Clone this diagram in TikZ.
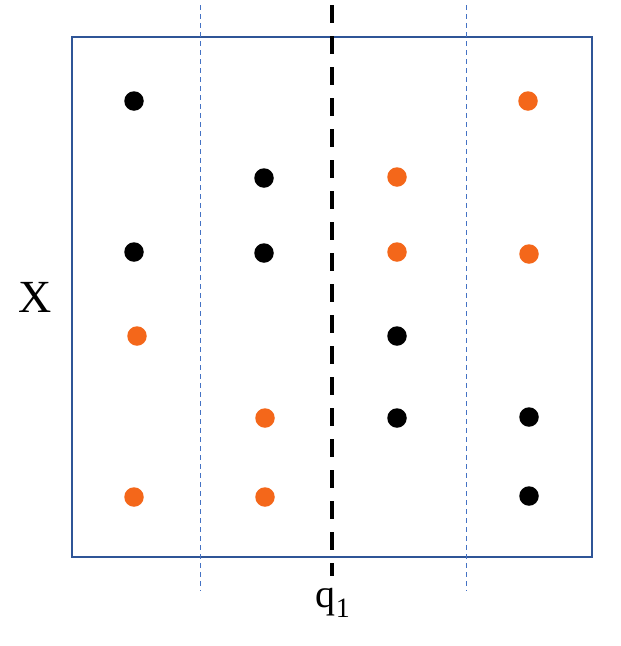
\documentclass[tikz,border=0pt]{standalone}
\usepackage{fontspec}
\setmainfont{Liberation Serif}
\definecolor{boxblue}{HTML}{2F5597}
\definecolor{lineblue}{HTML}{4472C4}
\definecolor{dotorange}{HTML}{F4671A}
\tikzset{
  dot/.style={circle,inner sep=0pt,minimum size=19.5pt,fill=#1},
  thin dash/.style={lineblue,line width=1pt,dash pattern=on 5pt off 4pt},
  split/.style={black,line width=3.5pt,dash pattern=on 18pt off 13pt}
}
\begin{document}
\begin{tikzpicture}[x=1pt,y=-1pt]
\useasboundingbox (0,0) rectangle (621,646);
\draw[boxblue,line width=2pt] (72,37) rectangle (592,557);
\coordinate (l1) at (200,5); \coordinate (l2) at (200,591);
\coordinate (r1) at (466,5); \coordinate (r2) at (466,591);
\coordinate (m1) at (332,5); \coordinate (m2) at (332,576);
\draw[thin dash] (l1) -- (l2);
\draw[thin dash] (r1) -- (r2);
\draw[split] (m1) -- (m2);
\node (X) at (35,297) {\fontsize{46}{46}\selectfont X};
\node (q) at (333,603) {\fontsize{40}{40}\selectfont q\textsubscript{\fontsize{28}{28}\selectfont 1}};
% black dots
\node[dot=black] (b1) at (134,101) {};
\node[dot=black] (b2) at (264,178) {};
\node[dot=black] (b3) at (134,252) {};
\node[dot=black] (b4) at (264,253) {};
\node[dot=black] (b5) at (397,336) {};
\node[dot=black] (b6) at (397,418) {};
\node[dot=black] (b7) at (529,417) {};
\node[dot=black] (b8) at (529,496) {};
% orange dots
\node[dot=dotorange] (o1) at (528,101) {};
\node[dot=dotorange] (o2) at (397,177) {};
\node[dot=dotorange] (o3) at (397,252) {};
\node[dot=dotorange] (o4) at (529,254) {};
\node[dot=dotorange] (o5) at (137,336) {};
\node[dot=dotorange] (o6) at (265,418) {};
\node[dot=dotorange] (o7) at (134,497) {};
\node[dot=dotorange] (o8) at (265,497) {};
\end{tikzpicture}
\end{document}
